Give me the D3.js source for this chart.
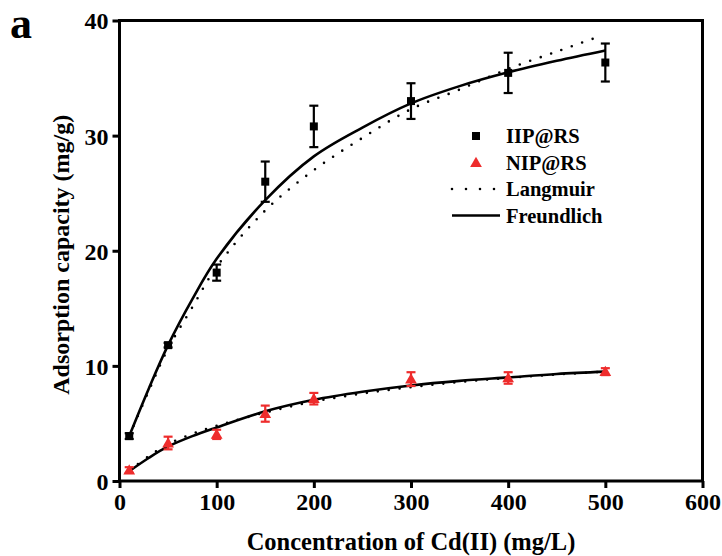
<!DOCTYPE html>
<html>
<head>
<meta charset="utf-8">
<script src="https://cdn.jsdelivr.net/npm/d3@7"></script>
<style>
    html, body { margin: 0; padding: 0; background: #fff; }
    svg { display: block; }
    text { font-family: "Liberation Serif", "Times New Roman", serif; font-weight: bold; fill: #000; }
</style>
</head>
<body>
<svg id="chart" width="722" height="556"></svg>
<script>
// measured points (Cd(II) concentration, mg/L)
var concentrations = [10, 50, 100, 150, 200, 300, 400, 500];
var iipValues = [3.9, 11.8, 18.1, 26.0, 30.8, 33.0, 35.45, 36.35];
var iipErrors = [0.25, 0.2, 0.7, 1.75, 1.8, 1.55, 1.75, 1.65];
var nipValues = [0.95, 3.3, 4.05, 5.85, 7.15, 8.85, 8.95, 9.5];
var nipErrors = [0.25, 0.55, 0.4, 0.7, 0.5, 0.6, 0.5, 0.3];

// fitted curves
var curveX = [10, 30, 50, 75, 100, 150, 200, 250, 300, 350, 400, 450, 500];
var iipFreundlich = [3.9, 8.0, 11.8, 15.8, 19.3, 24.4, 28.2, 30.7, 32.8, 34.3, 35.5, 36.5, 37.4];
var iipLangmuirX = [10, 30, 50, 75, 100, 150, 200, 250, 300, 350, 400, 450, 490];
var iipLangmuir = [3.9, 7.8, 11.5, 15.1, 18.6, 23.5, 27.0, 29.8, 32.3, 34.0, 35.8, 37.3, 38.5];
var nipFreundlich = [0.85, 2.0, 3.0, 3.9, 4.65, 6.05, 7.05, 7.75, 8.3, 8.7, 9.0, 9.3, 9.5];
var nipLangmuir = [0.9, 2.15, 3.2, 4.1, 4.8, 5.95, 6.9, 7.6, 8.15, 8.6, 8.95, 9.25, 9.5];

var xTicks = [0, 100, 200, 300, 400, 500, 600];
var yTicks = [0, 10, 20, 30, 40];
var legendLabels = ['IIP@RS', 'NIP@RS', 'Langmuir', 'Freundlich'];

var red = '#ee2c2c';

var margin = {left: 119.5, right: 19.5, top: 20.5, bottom: 75},
    width = 722,
    height = 556;

var svg = d3.select('#chart');

var x = d3.scaleLinear().domain([0, 600]).range([margin.left, width - margin.right]);
var y = d3.scaleLinear().domain([0, 40]).range([height - margin.bottom, margin.top]);

function zip(xs, ys, errs) {
    return xs.map(function(v, i) {
        return {x: v, y: ys[i], e: errs ? errs[i] : 0};
    });
}

var line = d3.line()
    .x(function(d) { return x(d.x); })
    .y(function(d) { return y(d.y); })
    .curve(d3.curveCatmullRom.alpha(0.5));

// fitted curves
function drawCurve(data, dotted) {
    var path = svg.append('path')
        .datum(data)
        .attr('d', line)
        .attr('fill', 'none')
        .attr('stroke', '#000')
        .attr('stroke-width', 2.6);
    if (dotted) {
        path.attr('stroke-dasharray', '0 11').attr('stroke-linecap', 'round');
    }
}

drawCurve(zip(iipLangmuirX, iipLangmuir), true);
drawCurve(zip(curveX, nipLangmuir), true);
drawCurve(zip(curveX, iipFreundlich), false);
drawCurve(zip(curveX, nipFreundlich), false);

// error bars + markers
function drawErrorBars(data, color) {
    var g = svg.append('g').attr('stroke', color).attr('stroke-width', 2.2);
    var bars = g.selectAll('g').data(data).enter().append('g');
    bars.append('line')
        .attr('x1', function(d) { return x(d.x); })
        .attr('x2', function(d) { return x(d.x); })
        .attr('y1', function(d) { return y(d.y - d.e); })
        .attr('y2', function(d) { return y(d.y + d.e); });
    bars.append('line')
        .attr('x1', function(d) { return x(d.x) - 4.5; })
        .attr('x2', function(d) { return x(d.x) + 4.5; })
        .attr('y1', function(d) { return y(d.y + d.e); })
        .attr('y2', function(d) { return y(d.y + d.e); });
    bars.append('line')
        .attr('x1', function(d) { return x(d.x) - 4.5; })
        .attr('x2', function(d) { return x(d.x) + 4.5; })
        .attr('y1', function(d) { return y(d.y - d.e); })
        .attr('y2', function(d) { return y(d.y - d.e); });
}

var iipData = zip(concentrations, iipValues, iipErrors),
    nipData = zip(concentrations, nipValues, nipErrors);

drawErrorBars(iipData, '#000');
drawErrorBars(nipData, red);

var square = d3.symbol().type(d3.symbolSquare).size(64),
    triangle = d3.symbol().type(d3.symbolTriangle).size(60);

svg.append('g').selectAll('path').data(iipData).enter()
    .append('path')
        .attr('d', square)
        .attr('fill', '#000')
        .attr('transform', function(d) { return 'translate(' + x(d.x) + ',' + y(d.y) + ')'; });

svg.append('g').selectAll('path').data(nipData).enter()
    .append('path')
        .attr('d', triangle)
        .attr('fill', red)
        .attr('transform', function(d) { return 'translate(' + x(d.x) + ',' + (y(d.y) + 1) + ')'; });

// frame
svg.append('rect')
    .attr('x', x(0))
    .attr('y', y(40))
    .attr('width', x(600) - x(0))
    .attr('height', y(0) - y(40))
    .attr('fill', 'none')
    .attr('stroke', '#000')
    .attr('stroke-width', 3);

// axes
var xAxis = svg.append('g')
    .attr('transform', 'translate(0,' + y(0) + ')')
    .call(d3.axisBottom(x).tickValues(xTicks).tickSize(7).tickPadding(5).tickFormat(d3.format('d')));
var yAxis = svg.append('g')
    .attr('transform', 'translate(' + x(0) + ',0)')
    .call(d3.axisLeft(y).tickValues(yTicks).tickSize(7).tickPadding(4).tickFormat(d3.format('d')));

[xAxis, yAxis].forEach(function(a) {
    a.select('.domain').remove();
    a.selectAll('.tick line').attr('stroke', '#000').attr('stroke-width', 3);
    a.selectAll('.tick text')
        .attr('font-family', '"Liberation Serif", serif')
        .attr('font-weight', 'bold')
        .attr('font-size', 24)
        .attr('fill', '#000');
});
xAxis.selectAll('.tick text').attr('dy', '0.71em');
yAxis.selectAll('.tick text').attr('dy', '0.35em');

// axis titles
svg.append('text')
    .attr('x', (x(0) + x(600)) / 2)
    .attr('y', 550)
    .attr('text-anchor', 'middle')
    .attr('font-size', 24.5)
    .text('Concentration of Cd(II) (mg/L)');

svg.append('text')
    .attr('transform', 'translate(69,' + ((y(0) + y(40)) / 2 + 4) + ') rotate(-90)')
    .attr('text-anchor', 'middle')
    .attr('font-size', 24)
    .text('Adsorption capacity (mg/g)');

svg.append('text')
    .attr('x', 10)
    .attr('y', 38)
    .attr('font-size', 44)
    .text('a');

// legend
var legend = svg.append('g').attr('transform', 'translate(476,136)'),
    rowH = 26.5;

legend.selectAll('text').data(legendLabels).enter()
    .append('text')
        .attr('x', 30)
        .attr('y', function(d, i) { return i * rowH; })
        .attr('dy', '0.35em')
        .attr('font-size', 20.5)
        .text(function(d) { return d; });

legend.append('path').attr('d', square).attr('fill', '#000');
legend.append('path').attr('d', triangle).attr('fill', red)
    .attr('transform', 'translate(0,' + (rowH + 1) + ')');
legend.append('line')
    .attr('x1', -24).attr('x2', 22)
    .attr('y1', rowH * 2).attr('y2', rowH * 2)
    .attr('stroke', '#000').attr('stroke-width', 2.6)
    .attr('stroke-linecap', 'round').attr('stroke-dasharray', '0 14');
legend.append('line')
    .attr('x1', -24).attr('x2', 24)
    .attr('y1', rowH * 3).attr('y2', rowH * 3)
    .attr('stroke', '#000').attr('stroke-width', 2.6);
</script>
</body>
</html>
